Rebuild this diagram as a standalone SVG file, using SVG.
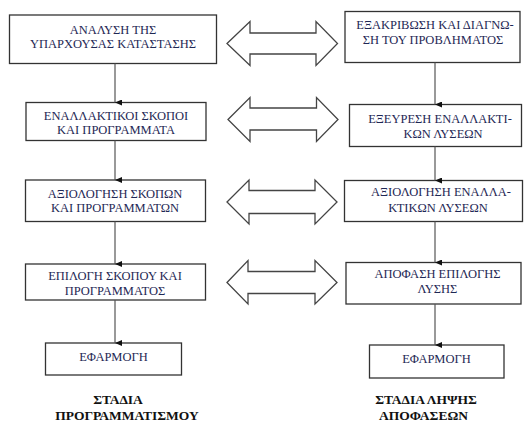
<svg xmlns="http://www.w3.org/2000/svg" width="524" height="423" viewBox="0 0 524 423">
  <defs>
    <marker id="tri" viewBox="0 0 6 7" refX="3" refY="7" markerWidth="6" markerHeight="7" markerUnits="userSpaceOnUse" orient="auto-start-reverse">
      <path d="M0,0 L6,0 L3,7 Z" fill="#111"/>
    </marker>
    <style>
      .box { fill: #fff; stroke: #333; stroke-width: 1.3; }
      .lbl { font-family: "Liberation Serif", "Times New Roman", serif; font-size: 12.5px; fill: #1e2754; text-anchor: middle; }
      .cap { font-family: "Liberation Serif", "Times New Roman", serif; font-size: 13.5px; font-weight: bold; fill: #111; text-anchor: middle; }
      .link { stroke: #555; stroke-width: 1.2; fill: none; }
      .dbl { fill: #fff; stroke: #444; stroke-width: 1.3; stroke-linejoin: miter; }
    </style>
  </defs>
  <rect width="524" height="423" fill="#fff"/>

  <!-- planning stages (left column) -->
  <g id="plan1">
    <rect class="box" x="9.5" y="15" width="207" height="48.5"/>
    <text class="lbl" x="113" y="33.5">ΑΝΑΛΥΣΗ ΤΗΣ</text>
    <text class="lbl" x="113" y="48">ΥΠΑΡΧΟΥΣΑΣ ΚΑΤΑΣΤΑΣΗΣ</text>
  </g>
  <g id="plan2">
    <rect class="box" x="26" y="102.5" width="180" height="38"/>
    <text class="lbl" x="116" y="119.5">ΕΝΑΛΛΑΚΤΙΚΟΙ ΣΚΟΠΟΙ</text>
    <text class="lbl" x="116" y="133.5">ΚΑΙ ΠΡΟΓΡΑΜΜΑΤΑ</text>
  </g>
  <g id="plan3">
    <rect class="box" x="25.5" y="180" width="180" height="41.5"/>
    <text class="lbl" x="115" y="197.5">ΑΞΙΟΛΟΓΗΣΗ ΣΚΟΠΩΝ</text>
    <text class="lbl" x="115" y="212">ΚΑΙ ΠΡΟΓΡΑΜΜΑΤΩΝ</text>
  </g>
  <g id="plan4">
    <rect class="box" x="25.5" y="264" width="180" height="36"/>
    <text class="lbl" x="115" y="279.5">ΕΠΙΛΟΓΗ ΣΚΟΠΟΥ ΚΑΙ</text>
    <text class="lbl" x="115" y="294.5">ΠΡΟΓΡΑΜΜΑΤΟΣ</text>
  </g>
  <g id="plan5">
    <rect class="box" x="45.5" y="343" width="136" height="32"/>
    <text class="lbl" x="113.5" y="360.5">ΕΦΑΡΜΟΓΗ</text>
  </g>

  <!-- decision stages (right column) -->
  <g id="dec1">
    <rect class="box" x="345" y="11.5" width="175" height="51"/>
    <text class="lbl" x="435" y="28.5">ΕΞΑΚΡΙΒΩΣΗ ΚΑΙ ΔΙΑΓΝΩ-</text>
    <text class="lbl" x="433" y="43.5">ΣΗ ΤΟΥ ΠΡΟΒΛΗΜΑΤΟΣ</text>
  </g>
  <g id="dec2">
    <rect class="box" x="349.5" y="104.5" width="172" height="42"/>
    <text class="lbl" x="440" y="123">ΕΞΕΥΡΕΣΗ ΕΝΑΛΛΑΚΤΙ-</text>
    <text class="lbl" x="443" y="137.5">ΚΩΝ ΛΥΣΕΩΝ</text>
  </g>
  <g id="dec3">
    <rect class="box" x="344.5" y="180.5" width="178" height="41"/>
    <text class="lbl" x="441" y="195.5">ΑΞΙΟΛΟΓΗΣΗ ΕΝΑΛΛΑ-</text>
    <text class="lbl" x="438" y="211.5">ΚΤΙΚΩΝ ΛΥΣΕΩΝ</text>
  </g>
  <g id="dec4">
    <rect class="box" x="346" y="262.5" width="175" height="41.5"/>
    <text class="lbl" x="437.5" y="278">ΑΠΟΦΑΣΗ ΕΠΙΛΟΓΗΣ</text>
    <text class="lbl" x="437.5" y="293">ΛΥΣΗΣ</text>
  </g>
  <g id="dec5">
    <rect class="box" x="369.5" y="345" width="134.5" height="33"/>
    <text class="lbl" x="436.5" y="363">ΕΦΑΡΜΟΓΗ</text>
  </g>

  <!-- column captions -->
  <g id="caption-plan">
    <text class="cap" x="118" y="403.5">ΣΤΑΔΙΑ</text>
    <text class="cap" x="127" y="420">ΠΡΟΓΡΑΜΜΑΤΙΣΜΟΥ</text>
  </g>
  <g id="caption-dec">
    <text class="cap" x="426" y="404">ΣΤΑΔΙΑ ΛΗΨΗΣ</text>
    <text class="cap" x="423.5" y="420">ΑΠΟΦΑΣΕΩΝ</text>
  </g>

  <!-- connectors -->
  <g id="connectors">
    <line class="link" x1="115" y1="63.5" x2="115" y2="102.5" marker-end="url(#tri)"/>
    <line class="link" x1="115" y1="140.5" x2="115" y2="180" marker-end="url(#tri)"/>
    <line class="link" x1="115" y1="221.5" x2="115" y2="264" marker-end="url(#tri)"/>
    <line class="link" x1="115" y1="300" x2="115" y2="343" marker-end="url(#tri)"/>

    <line class="link" x1="435" y1="62.5" x2="435" y2="104.5" marker-end="url(#tri)"/>
    <line class="link" x1="435" y1="146.5" x2="435" y2="180.5" marker-end="url(#tri)"/>
    <line class="link" x1="435" y1="221.5" x2="435" y2="262.5" marker-end="url(#tri)"/>
    <line class="link" x1="435" y1="304" x2="435" y2="345" marker-end="url(#tri)"/>

    <!-- two-way block arrows between the columns -->
    <path class="dbl" d="M227,43.5 L250,21.5 L250,33 L316,33 L316,21.5 L337.5,43.5 L316,65.5 L316,54 L250,54 L250,65.5 Z"/>
    <path class="dbl" d="M228,119.5 L250,97.5 L250,108 L316.5,108 L316.5,97.5 L338,119.5 L316.5,141.5 L316.5,130 L250,130 L250,141.5 Z"/>
    <path class="dbl" d="M227,202 L249,180 L249,190.5 L315,190.5 L315,180 L337,202 L315,224 L315,213.5 L249,213.5 L249,224 Z"/>
    <path class="dbl" d="M227,282.5 L248,260.5 L248,271.5 L315,271.5 L315,260.5 L337,282.5 L315,304 L315,293.5 L248,293.5 L248,304 Z"/>
  </g>
</svg>
